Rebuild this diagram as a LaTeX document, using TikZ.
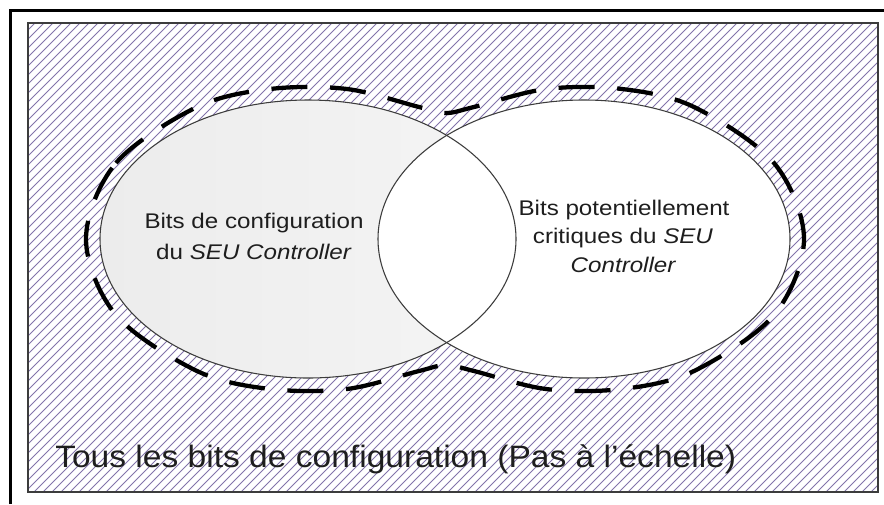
\documentclass[tikz,border=0pt]{standalone}
\usepackage{fontspec}
\setmainfont{Liberation Sans}
\newfontfamily\vennfont{Liberation Sans}[FakeStretch=1.14]
\newfontfamily\legendfont{Liberation Sans}[FakeStretch=1.085]
\definecolor{hatchcol}{RGB}{130,116,170}
\definecolor{edgecol}{RGB}{60,60,60}
\definecolor{lightfill}{RGB}{236,236,236}
\definecolor{lightfillb}{RGB}{245,245,245}
\definecolor{textcol}{RGB}{30,30,30}
\tikzset{
  hatch/.style={draw=hatchcol, line width=0.75pt},
  framebox/.style={draw=edgecol, line width=1pt},
  outerframe/.style={draw=black, line width=2.3pt},
  setline/.style={draw=edgecol, line width=0.8pt},
  blob/.style={draw=black, line width=3.2pt, dash pattern=on 27pt off 17pt},
  venntext/.style={anchor=base, inner sep=0pt, text=textcol,
    font=\vennfont\fontsize{15.9pt}{19pt}\selectfont},
  legendtext/.style={anchor=base west, inner sep=0pt, text=textcol,
    font=\legendfont\fontsize{23.2pt}{28pt}\selectfont}
}
\begin{document}
\begin{tikzpicture}[x=0.75pt,y=-0.75pt]
  \useasboundingbox (0,0) rectangle (884,504);
  \fill[white] (0,0) rectangle (884,504);

  % hatched universe
  \begin{scope}
    \clip (28,23) rectangle (878,492);
    \foreach \k in {0,...,160}
      \draw[hatch] ({-470+\k*9},492) -- ++(480,-480);
  \end{scope}
  \draw[framebox] (28,23) rectangle (878,492);

  % outer frame (only top and left edges fall inside the page)
  \draw[outerframe] (10.5,504) -- (10.5,10.5) -- (884,10.5);

  % the two sets
  \shade[left color=lightfill, right color=lightfillb] (308,239) ellipse [x radius=156pt, y radius=104.25pt];
  \fill[white] (584,239) ellipse [x radius=154.5pt, y radius=104.25pt];
  \draw[setline] (308,239) ellipse [x radius=156pt, y radius=104.25pt];
  \draw[setline] (584,239) ellipse [x radius=154.5pt, y radius=104.25pt];

  % dashed envelope around both sets
  \draw[blob] plot[smooth cycle, tension=0.55] coordinates {
    (86,239) (116,163) (197,107) (270,89) (347,89) (419,107) (446,113)
    (474,107) (546,89) (622,89) (694,107) (774,163) (804,239) (774,315)
    (694,371) (622,389) (546,389) (474,371) (446,365) (419,371)
    (347,389) (270,389) (197,371) (116,315)};

  % labels
  \node[venntext] (left1) at (254,228) {Bits de configuration};
  \node[venntext] (left2) at (254,259) {du \textit{SEU Controller}};
  \node[venntext] (right1) at (624,215) {Bits potentiellement};
  \node[venntext] (right2) at (623,243) {critiques du \textit{SEU}};
  \node[venntext] (right3) at (623.5,272) {\textit{Controller}};
  \node[legendtext] (universe) at (55,467) {Tous les bits de configuration (Pas à l’échelle)};
\end{tikzpicture}
\end{document}
